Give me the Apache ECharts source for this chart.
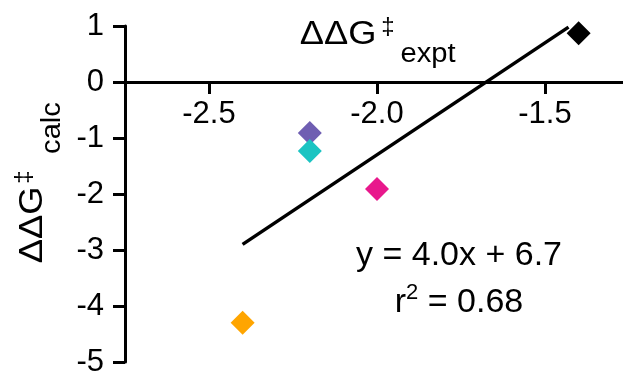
<!DOCTYPE html>
<html>
<head>
<meta charset="utf-8">
<script src="https://cdn.jsdelivr.net/npm/echarts@6/dist/echarts.min.js"></script>
<style>
html,body{margin:0;padding:0;background:#fff;}
#chart{width:623px;height:372px;}
</style>
</head>
<body>
<div id="chart"></div>
<script>
// ---- data ----
const xExpt = [-1.4, -2.2, -2.2, -2.0, -2.4];
const yCalc = [0.87, -0.91, -1.23, -1.91, -4.3];
const pointColors = ['#000000', '#6F5EB2', '#1BC4C2', '#E8188C', '#FFA500'];
const fitX = [-2.4, -1.43];
const fitY = [-2.9, 0.98];
const xTickValues = [-2.5, -2.0, -1.5];
const eqLine1 = 'y = 4.0x + 6.7';
const eqLine2a = 'r';
const eqLine2b = ' = 0.68';

const FONT = '"Liberation Sans", Arial, Helvetica, sans-serif';

const W = 623, H = 372;
const X_MIN = -2.75, X_MAX = -1.25;
const Y_MIN = -5, Y_MAX = 1;
const GRID_LEFT = 125, GRID_RIGHT = -6, GRID_TOP = 26, GRID_BOTTOM = 10;
// pixel geometry derived from the axis scales
const pxPerX = (W - GRID_LEFT - GRID_RIGHT) / (X_MAX - X_MIN);
const zeroRow = GRID_TOP + (H - GRID_TOP - GRID_BOTTOM) * (Y_MAX - 0) / (Y_MAX - Y_MIN);
const tickGridLeft = GRID_LEFT + (xTickValues[0] - X_MIN) * pxPerX;

const chart = echarts.init(document.getElementById('chart'), null, {renderer: 'canvas'});

const pts = xExpt.map((x, i) => ({
  value: [x, yCalc[i]],
  itemStyle: {color: pointColors[i], opacity: 1}
}));

const option = {
  animation: false,
  backgroundColor: '#ffffff',
  grid: [
    {left: GRID_LEFT, right: GRID_RIGHT, top: GRID_TOP, bottom: GRID_BOTTOM, containLabel: false, outerBoundsMode: 'none'},
    {left: tickGridLeft, right: GRID_RIGHT, top: 0, bottom: H - zeroRow, containLabel: false, outerBoundsMode: 'none'}
  ],
  xAxis: [
    {
      type: 'value',
      gridIndex: 0,
      min: X_MIN,
      max: X_MAX,
      axisLine: {show: true, onZero: true, lineStyle: {color: '#000', width: 3}},
      axisTick: {show: false},
      axisLabel: {show: false},
      splitLine: {show: false}
    },
    {
      type: 'value',
      gridIndex: 1,
      position: 'bottom',
      min: xTickValues[0],
      max: X_MAX,
      interval: 0.5,
      axisLine: {show: false, onZero: false},
      axisTick: {show: true, length: 12, lineStyle: {color: '#000', width: 3}},
      axisLabel: {
        show: true,
        margin: 17,
        color: '#000',
        fontSize: 31,
        fontFamily: FONT,
        showMinLabel: true,
        showMaxLabel: false,
        formatter: v => (xTickValues.some(t => Math.abs(t - v) < 1e-9) ? v.toFixed(1) : '')
      },
      splitLine: {show: false}
    }
  ],
  yAxis: [
    {
      type: 'value',
      gridIndex: 0,
      min: Y_MIN,
      max: Y_MAX,
      interval: 1,
      axisLine: {show: true, onZero: false, lineStyle: {color: '#000', width: 3}},
      axisTick: {show: true, length: 12, lineStyle: {color: '#000', width: 3}},
      axisLabel: {
        margin: 21,
        color: '#000',
        fontSize: 31,
        fontFamily: FONT
      },
      splitLine: {show: false}
    },
    {
      type: 'value',
      gridIndex: 1,
      min: 0,
      max: 1,
      axisLine: {show: false},
      axisTick: {show: false},
      axisLabel: {show: false},
      splitLine: {show: false}
    }
  ],
  series: [
    {
      type: 'line',
      xAxisIndex: 0,
      yAxisIndex: 0,
      data: fitX.map((x, i) => [x, fitY[i]]),
      symbol: 'none',
      lineStyle: {color: '#000', width: 3.5},
      z: 2
    },
    {
      type: 'scatter',
      xAxisIndex: 0,
      yAxisIndex: 0,
      data: pts,
      symbol: 'diamond',
      symbolSize: 24,
      itemStyle: {opacity: 1},
      z: 3
    }
  ],
  graphic: [
    {type: 'text', x: 338, y: 35, scaleX: 1.1, style: {text: 'ΔΔG', font: '33px ' + FONT, fill: '#000', textAlign: 'center', textVerticalAlign: 'middle'}},
    {type: 'text', x: 388, y: 27, style: {text: '‡', font: '24px ' + FONT, fill: '#000', textAlign: 'center', textVerticalAlign: 'middle'}},
    {type: 'text', x: 428, y: 55, scaleX: 1.08, style: {text: 'expt', font: '27px ' + FONT, fill: '#000', textAlign: 'center', textVerticalAlign: 'middle'}},
    {type: 'text', x: 33, y: 225, rotation: Math.PI / 2, scaleX: 1.1, style: {text: 'ΔΔG', font: '33px ' + FONT, fill: '#000', textAlign: 'center', textVerticalAlign: 'middle'}},
    {type: 'text', x: 24, y: 177, rotation: Math.PI / 2, style: {text: '‡', font: '24px ' + FONT, fill: '#000', textAlign: 'center', textVerticalAlign: 'middle'}},
    {type: 'text', x: 53, y: 128, rotation: Math.PI / 2, scaleX: 1.08, style: {text: 'calc', font: '27px ' + FONT, fill: '#000', textAlign: 'center', textVerticalAlign: 'middle'}},
    {type: 'text', x: 459, y: 256, style: {text: eqLine1, font: '34px ' + FONT, fill: '#000', textAlign: 'center', textVerticalAlign: 'middle'}},
    {type: 'text', x: 459, y: 301, style: {
      text: '{a|' + eqLine2a + '}{s|2}{a|' + eqLine2b + '}',
      textAlign: 'center', textVerticalAlign: 'middle',
      rich: {
        a: {font: '34px ' + FONT, fill: '#000', color: '#000', verticalAlign: 'bottom', lineHeight: 38},
        s: {font: '22px ' + FONT, fill: '#000', color: '#000', verticalAlign: 'top', lineHeight: 38}
      }
    }}
  ]
};
chart.setOption(option);
</script>
</body>
</html>
